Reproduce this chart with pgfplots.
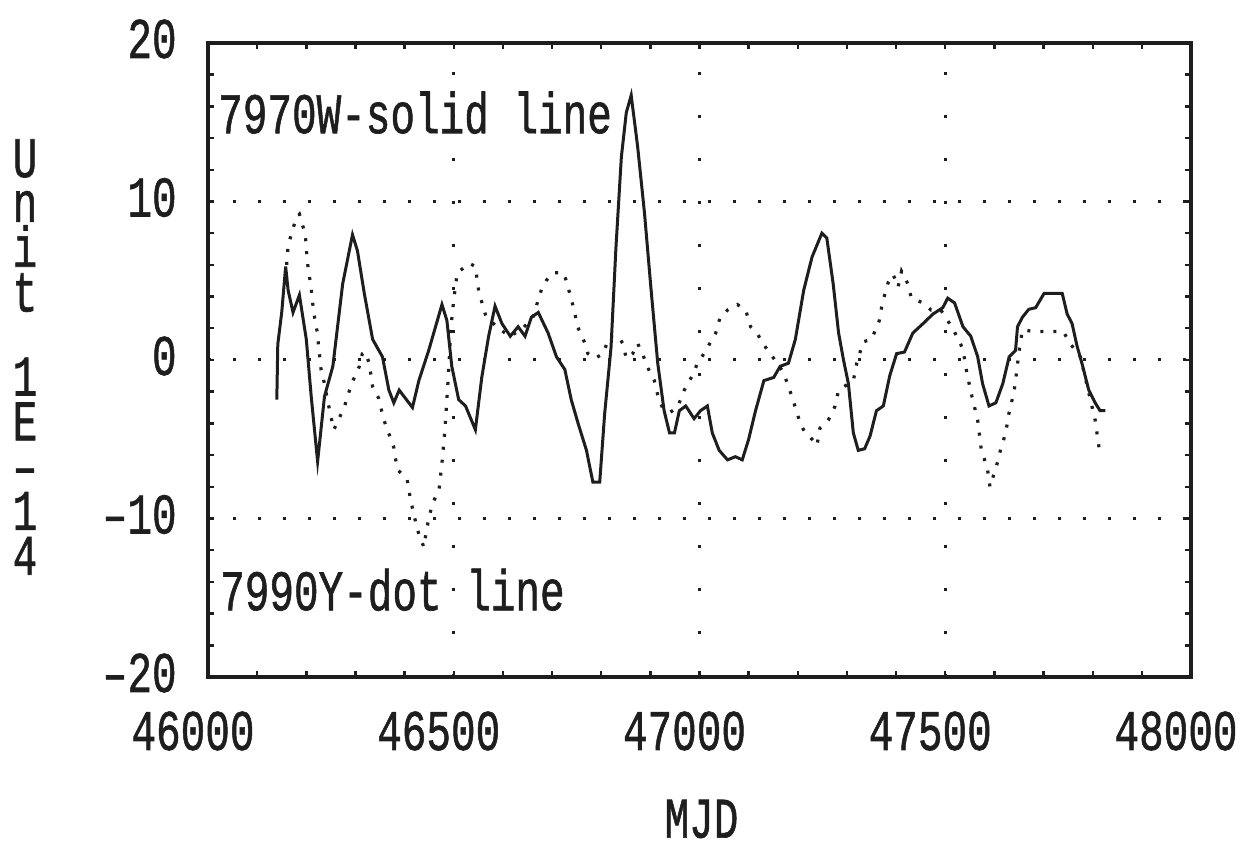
\documentclass[border=0pt]{standalone}
\usepackage{fontspec}
\usepackage{graphicx}
\usepackage{pgfplots}
\pgfplotsset{compat=1.18}
\usetikzlibrary{calc}
\newfontfamily\pf[FakeBold=1.2]{Liberation Mono}
\newcommand\T[1]{\scalebox{1}[1.4]{#1}}
\newcommand\PF{\pf\fontsize{20.5}{16}\selectfont}
\definecolor{ink}{HTML}{1E1E1E}
\begin{document}
\begin{tikzpicture}
\begin{axis}[
  name=ax,
  scale only axis,
  width=491.5pt, height=317pt,
  xmin=46000, xmax=48000, ymin=-20, ymax=20,
  scaled x ticks=false, scaled y ticks=false,
  axis line style={line width=1.7pt, ink},
  xtick={46000,46500,47000,47500,48000},
  xticklabels={\T{46000},\T{46500},\T{47000},\T{47500},\T{48000}},
  ytick={-20,-10,0,10,20},
  yticklabels={\T{–20},\T{–10},\T{0},\T{10},\T{20}},
  minor x tick num=4, minor y tick num=4,
  tick align=inside,
  major tick length=3pt, minor tick length=3pt,
  tick style={line width=1.2pt, ink},
  every tick label/.append style={font=\PF, text=ink},
  xticklabel style={anchor=center, inner sep=0pt, yshift=-27pt, xshift=-7.5pt},
  yticklabel style={anchor=east, inner sep=0pt, xshift=-15.5pt, yshift=2pt},
  grid=major,
  x grid style={ink, line width=1.5pt, dash pattern=on 1.5pt off 20pt},
  y grid style={ink, line width=1.5pt, dash pattern=on 1.5pt off 11pt},
  clip=false,
]
\addplot[ink, line width=1.5pt] coordinates {
(46140,-2.5) (46142,1.0) (46150,3.0) (46158,5.9) (46163,4.4) (46173,3.0) (46186,4.1)
(46200,1.3) (46210,-2.3) (46223,-6.4) (46237,-2.3) (46254,-0.4) (46274,4.8) (46294,7.9)
(46304,6.9) (46318,4.2) (46335,1.3) (46355,0.2) (46368,-1.9) (46378,-2.7) (46389,-1.9)
(46416,-3.0) (46429,-1.3) (46449,0.6) (46476,3.5) (46486,2.5) (46496,-0.4) (46510,-2.5)
(46524,-2.9) (46544,-4.4) (46557,-1.1) (46571,1.5) (46584,3.4) (46598,2.3) (46615,1.5)
(46631,2.1) (46645,1.5) (46658,2.7) (46672,3.0) (46692,1.7) (46709,0.2) (46726,-0.6)
(46739,-2.5) (46753,-4.0) (46770,-5.7) (46783,-7.7) (46797,-7.7) (46807,-3.4) (46820,0.8)
(46830,7.1) (46841,12.8) (46851,15.6) (46861,16.7) (46874,13.5) (46888,9.3) (46901,4.6)
(46915,-0.2) (46928,-3.2) (46939,-4.6) (46949,-4.6) (46959,-3.2) (46972,-2.9) (46989,-3.7)
(47002,-3.2) (47016,-2.9) (47026,-4.6) (47040,-5.7) (47057,-6.3) (47073,-6.1) (47087,-6.3)
(47100,-5.0) (47114,-3.2) (47131,-1.3) (47151,-1.1) (47164,-0.4) (47181,-0.2) (47195,1.3)
(47212,4.4) (47229,6.5) (47249,8.0) (47259,7.7) (47272,4.8) (47283,1.7) (47293,0.0)
(47303,-1.5) (47313,-4.6) (47323,-5.7) (47336,-5.6) (47347,-4.8) (47360,-3.2) (47374,-2.9)
(47387,-1.0) (47401,0.4) (47417,0.5) (47434,1.7) (47455,2.3) (47475,2.9) (47495,3.3)
(47505,3.9) (47519,3.6) (47536,2.1) (47552,1.5) (47566,0.2) (47576,-1.5) (47589,-2.9)
(47603,-2.7) (47617,-1.5) (47630,0.2) (47643,0.6) (47647,2.1) (47657,2.7) (47670,3.2)
(47684,3.3) (47701,4.2) (47718,4.2) (47738,4.2) (47748,2.9) (47758,2.3) (47768,0.9)
(47778,-0.2) (47792,-1.9) (47805,-2.7) (47815,-3.2) (47826,-3.2)
};
\addplot[ink, line width=1.6pt, dash pattern=on 1.5pt off 5pt] coordinates {
(46160,6.0) (46163,7.2) (46170,8.0) (46180,9.0) (46186,9.2) (46198,7.9) (46202,6.2)
(46210,4.5) (46215,3.0) (46222,1.8) (46226,0.6) (46230,-0.6) (46237,-1.5) (46243,-2.5)
(46249,-3.4) (46256,-4.4) (46271,-3.4) (46276,-3.1) (46287,-2.0) (46295,-1.3) (46308,-0.4)
(46314,0.4) (46320,0.5) (46328,-0.2) (46335,-1.7) (46347,-2.4) (46358,-3.8) (46365,-4.4)
(46378,-5.5) (46385,-6.9) (46405,-7.5) (46412,-8.8) (46426,-10.7) (46439,-11.8) (46446,-10.5)
(46456,-9.1) (46470,-8.2) (46476,-6.5) (46482,-4.4) (46486,-2.5) (46490,-0.5) (46494,2.0)
(46500,3.8) (46507,5.5) (46524,5.9) (46532,6.1) (46544,5.9) (46551,4.3) (46565,2.8)
(46590,2.0) (46615,1.5) (46640,2.0) (46660,2.6) (46679,4.5) (46689,5.05) (46702,5.5)
(46723,5.5) (46729,5.0) (46745,3.15) (46752,2.1) (46767,1.05) (46773,0.4) (46787,0.1)
(46804,0.4) (46817,1.5) (46834,1.5) (46844,1.05) (46851,0.1) (46864,0.4) (46874,1.05)
(46884,0.4) (46895,-0.5) (46908,-1.3) (46915,-2.2) (46925,-3.05) (46940,-3.3) (46955,-3.0)
(46969,-1.9) (46986,-0.95) (46996,-0.2) (47003,0.1) (47023,1.15) (47033,1.7) (47042,2.7)
(47057,3.15) (47077,3.5) (47094,3.15) (47104,2.1) (47117,1.7) (47131,0.95) (47144,0.4)
(47158,-0.2) (47171,-0.8) (47188,-2.3) (47194,-2.9) (47205,-4.0) (47215,-4.6) (47229,-5.0)
(47239,-5.4) (47245,-4.3) (47262,-3.8) (47276,-2.9) (47283,-1.9) (47313,-1.3) (47320,-0.2)
(47333,1.15) (47350,1.3) (47366,2.5) (47372,3.6) (47384,4.9) (47394,5.4) (47404,4.6)
(47411,5.6) (47424,4.8) (47431,3.9) (47455,3.6) (47471,3.15) (47490,3.2) (47515,2.0)
(47536,0.7) (47542,-0.5) (47552,-2.0) (47566,-3.8) (47573,-5.6) (47586,-6.9) (47591,-8.0)
(47605,-6.6) (47613,-5.6) (47623,-4.6) (47630,-3.3) (47640,-2.0) (47643,-1.3) (47650,0.5)
(47657,1.9) (47680,1.8) (47700,1.8) (47740,1.8) (47755,1.0) (47775,0.2) (47790,-1.8)
(47805,-3.8) (47815,-6.0)
};
\node[anchor=west, inner sep=0pt, font=\PF, text=ink] at (axis cs:46020,15.6) {\T{7970W-solid line}};
\node[anchor=west, inner sep=0pt, font=\PF, text=ink] at (axis cs:46024,-14.5) {\T{7990Y-dot line}};
\end{axis}
\node[font=\PF, text=ink, inner sep=0pt] at ($(ax.south)+(1pt,-71pt)$) {\T{MJD}};
\node[font=\PF, text=ink, inner sep=0pt, align=center, yscale=1.4, transform shape]
  at ($(ax.west)+(-91.5pt,1.5pt)$) {U\\n\\i\\t\\[14pt]1\\E\\–\\1\\4};
\pgfresetboundingbox
\path[use as bounding box] ($(ax.south west)+(-104pt,-89.5pt)$) rectangle ($(ax.north east)+(33pt,21.5pt)$);
\end{tikzpicture}
\end{document}
